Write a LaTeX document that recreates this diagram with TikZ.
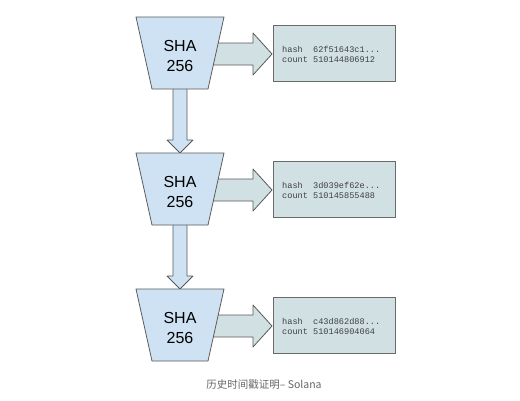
\documentclass[tikz,border=0pt]{standalone}
\usepackage{fontspec}
\setmainfont{Liberation Sans}
\setmonofont{Liberation Mono}
\newfontfamily\cjk{Noto Sans CJK SC}
\definecolor{trapfill}{HTML}{CFE2F3}
\definecolor{boxfill}{HTML}{D0E0E3}
\definecolor{edge}{HTML}{595959}
\definecolor{captiongray}{HTML}{666666}
\tikzset{
  trap/.style={fill=trapfill, draw=edge, line width=0.8pt, line join=round},
  harrow/.style={fill=boxfill, draw=edge, line width=0.8pt, line join=round},
  varrow/.style={fill=trapfill, draw=edge, line width=0.8pt, line join=round},
  outbox/.style={fill=boxfill, draw=edge!90, line width=0.8pt},
  shatext/.style={font=\fontsize{16}{19}\selectfont, align=center, inner sep=0pt},
  monotext/.style={font=\ttfamily\fontsize{8.6}{10}\selectfont, align=left, anchor=west, inner sep=0pt, text=black!75},
}
\begin{document}
\begin{tikzpicture}[x=1pt,y=-1pt]
\useasboundingbox (0,0) rectangle (520,400);
\foreach \i/\h/\c in {0/62f51643c1/510144806912, 1/3d039ef62e/510145855488, 2/c43d862d88/510146904064}{
  \begin{scope}[yshift=-136*\i]
    \coordinate (tl\i) at (136,17);
    \coordinate (tr\i) at (224,17);
    \coordinate (br\i) at (208,89);
    \coordinate (bl\i) at (152,89);
    % horizontal block arrow
    \draw[harrow] (208,43) -- (253,43) -- (253,33) -- (272,54) -- (253,75) -- (253,65) -- (208,65) -- cycle;
    % vertical block arrow (not after last)
    \ifnum\i<2
      \draw[varrow] (173,82) -- (173,140) -- (167,140) -- (180,153) -- (193,140) -- (187,140) -- (187,82) -- cycle;
    \fi
    % trapezoid
    \draw[trap] (tl\i) -- (tr\i) -- (br\i) -- (bl\i) -- cycle;
    \node[shatext] (sha\i) at (180,56) {SHA\\[1pt]256};
    % output box
    \draw[outbox] (273,25) rectangle (395,81);
    \node[monotext] (out\i) at (282,54) {hash\ \ \h...\\count \c};
  \end{scope}
}
\node[font=\cjk\fontsize{10.5}{12}\selectfont, text=captiongray] (caption) at (264,385) {历史时间戳证明– Solana};
\end{tikzpicture}
\end{document}
